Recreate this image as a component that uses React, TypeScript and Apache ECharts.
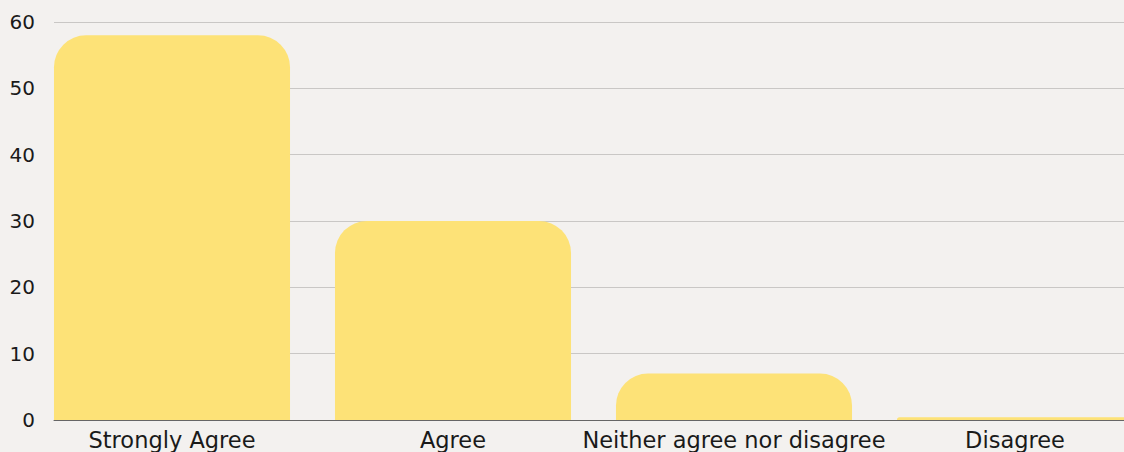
import React, { useEffect, useRef } from "react";
import * as echarts from "echarts";

const categories = ["Strongly Agree", "Agree", "Neither agree nor disagree", "Disagree"];
const values = [58, 30, 7, 0.4];
const yTicks = [0, 10, 20, 30, 40, 50, 60];

export default function App() {
  const ref = useRef<HTMLDivElement>(null);
  useEffect(() => {
    if (!ref.current) return;
    const chart = echarts.init(ref.current, null, { renderer: "svg" });
    const font = "'DejaVu Sans', sans-serif";
    chart.setOption({
      animation: false,
      backgroundColor: "#f3f1ef",
      grid: [
        { left: 54, right: 0, top: 22, bottom: 32, containLabel: false },
        { left: 31.5, width: 1124, top: 22, bottom: 32, containLabel: false },
      ],
      xAxis: [
        {
          gridIndex: 0,
          type: "category",
          data: categories,
          axisLine: { show: true, lineStyle: { color: "#666", width: 1 } },
          axisTick: { show: false },
          axisLabel: { show: false },
        },
        {
          gridIndex: 1,
          type: "category",
          data: categories,
          axisLine: { show: false },
          axisTick: { show: false },
          axisLabel: {
            show: true,
            color: "#1a1a1a",
            fontSize: 22.5,
            fontFamily: font,
            margin: 8,
            interval: 0,
          },
        },
      ],
      yAxis: [
        {
          gridIndex: 0,
          type: "value",
          min: yTicks[0],
          max: yTicks[yTicks.length - 1],
          interval: 10,
          axisLine: { show: false },
          axisTick: { show: false },
          splitLine: { show: true, lineStyle: { color: "#c9c7c5", width: 1 } },
          axisLabel: {
            show: true,
            color: "#1a1a1a",
            fontSize: 20,
            fontFamily: font,
            margin: 19,
          },
        },
        {
          gridIndex: 1,
          type: "value",
          min: yTicks[0],
          max: yTicks[yTicks.length - 1],
          interval: 10,
          show: false,
          splitLine: { show: false },
        },
      ],
      series: [
        {
          type: "bar",
          xAxisIndex: 1,
          yAxisIndex: 1,
          data: values,
          barCategoryGap: "16%",
          itemStyle: { color: "#fde277", borderRadius: [32, 32, 0, 0] },
          z: 3,
        },
      ],
    });
    return () => chart.dispose();
  }, []);
  return (
    <div style={{ position: "fixed", left: 0, top: 0, width: 1124, height: 452, overflow: "hidden" }}>
      <div ref={ref} style={{ position: "absolute", left: 0, top: 0, width: 1156, height: 452 }} />
    </div>
  );
}
